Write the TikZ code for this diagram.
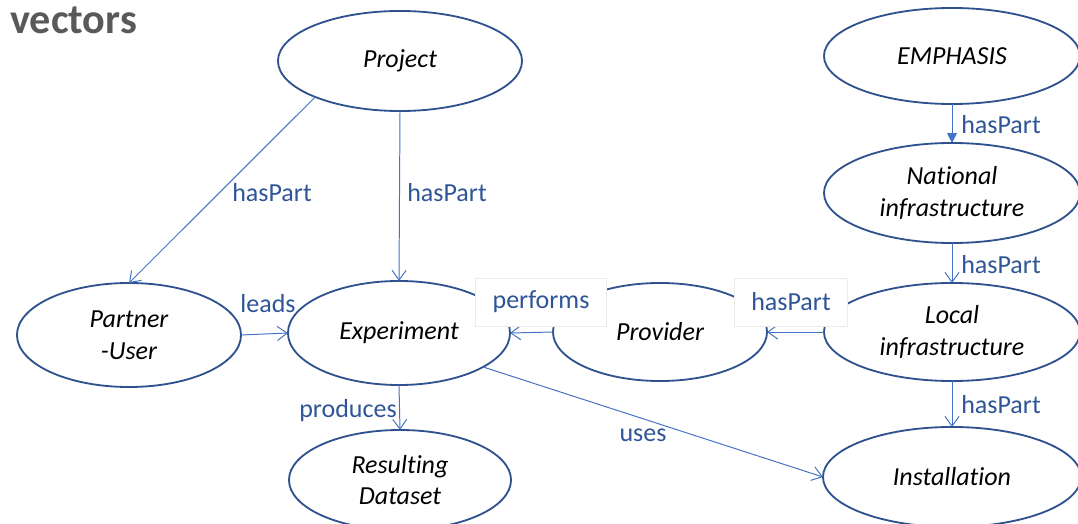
\documentclass[tikz,border=0pt]{standalone}
\usepackage{fontspec}
\setmainfont{Carlito}[Ligatures=NoCommon]
\usepackage{tikz}
\usetikzlibrary{arrows.meta,shapes.geometric}
\definecolor{rim}{HTML}{2F528F}
\definecolor{link}{HTML}{4472C4}
\definecolor{word}{HTML}{2F5597}
\definecolor{titlegray}{HTML}{595959}

\begin{document}
\begin{tikzpicture}[x=0.025cm,y=-0.025cm,
     cls/.style={ellipse,draw=rim,line width=1.3pt,fill=white,inner sep=0pt,
      outer sep=0pt,align=center,font=\itshape\fontsize{18.5}{22.5}\selectfont},
     rel/.style={draw=link,line width=0.7pt,-{Straight Barb[length=7pt,width=10pt]}},
     lbl/.style={text=word,inner sep=0pt,font=\fontsize{18.5}{22}\selectfont},
     tag/.style={lbl,draw=black!8,line width=0.5pt,fill=white,minimum height=1.2cm}]
     \useasboundingbox (0,0) rectangle (1078,524);
     \node[anchor=base west,inner sep=0pt,text=titlegray,
      font=\bfseries\fontsize{30}{36}\selectfont] (title) at (10,34) {vectors};
     \node[cls,minimum width=6.1cm,minimum height=2.5cm]  (proj)  at (400, 61) {Project};
     \node[cls,minimum width=6.4cm,minimum height=2.4cm]  (emph)  at (952, 56) {EMPHASIS};
     \node[cls,minimum width=6.4cm,minimum height=2.5cm]  (natl)  at (952,193) {National\\infrastructure};
     \node[cls,minimum width=6.4cm,minimum height=2.45cm] (local) at (952,332) {Local\\infrastructure};
     \node[cls,minimum width=6.45cm,minimum height=2.5cm] (inst)  at (952,477) {Installation};
     \node[cls,minimum width=5.6cm,minimum height=2.6cm]  (pu)    at (129,335) {Partner\\-User};
     \node[cls,minimum width=5.55cm,minimum height=2.6cm] (exp)   at (399,333) {Experiment};
     \node[cls,minimum width=5.55cm,minimum height=2.5cm] (data)  at (400,480) {Resulting\\Dataset};
     \node[cls,minimum width=5.35cm,minimum height=2.45cm](prov)  at (660,332) {Provider};
     \draw[rel] (proj.203)   -- (pu.north);
     \draw[rel] (proj.south) -- (exp.north);
     \draw[rel] (pu.east)    -- (exp.west);
     \draw[rel] (exp.south)  -- (data.north);
     \draw[rel] (prov.west)  -- (exp.east);
     \draw[rel] (local.west) -- (prov.east);
     \draw[rel] (exp.-22)    -- (inst.west);
     \draw[draw=link,line width=0.7pt,-{Triangle[length=7pt,width=7pt]}]
      (emph.south) -- (natl.north);
     \draw[rel] (natl.south)  -- (local.north);
     \draw[rel] (local.south) -- (inst.north);
     \node[lbl] (lproj) at (272,193) {hasPart};
     \node[lbl] (lexp)  at (447,193) {hasPart};
     \node[lbl] (lpu)   at (268,304) {leads};
     \node[lbl] (ldata) at (348,411) {produces};
     \node[lbl] (linst) at (643,435) {uses};
     \node[lbl,anchor=west] (lnatl)  at (961,125) {hasPart};
     \node[lbl,anchor=west] (llocal) at (961,265) {hasPart};
     \node[lbl,anchor=west] (lbot)   at (961,405) {hasPart};
     \node[tag,minimum width=3.275cm] (lprov) at (541,302) {performs};
     \node[tag,minimum width=2.825cm] (lpart) at (791,302) {hasPart};
    \end{tikzpicture}
\end{document}
